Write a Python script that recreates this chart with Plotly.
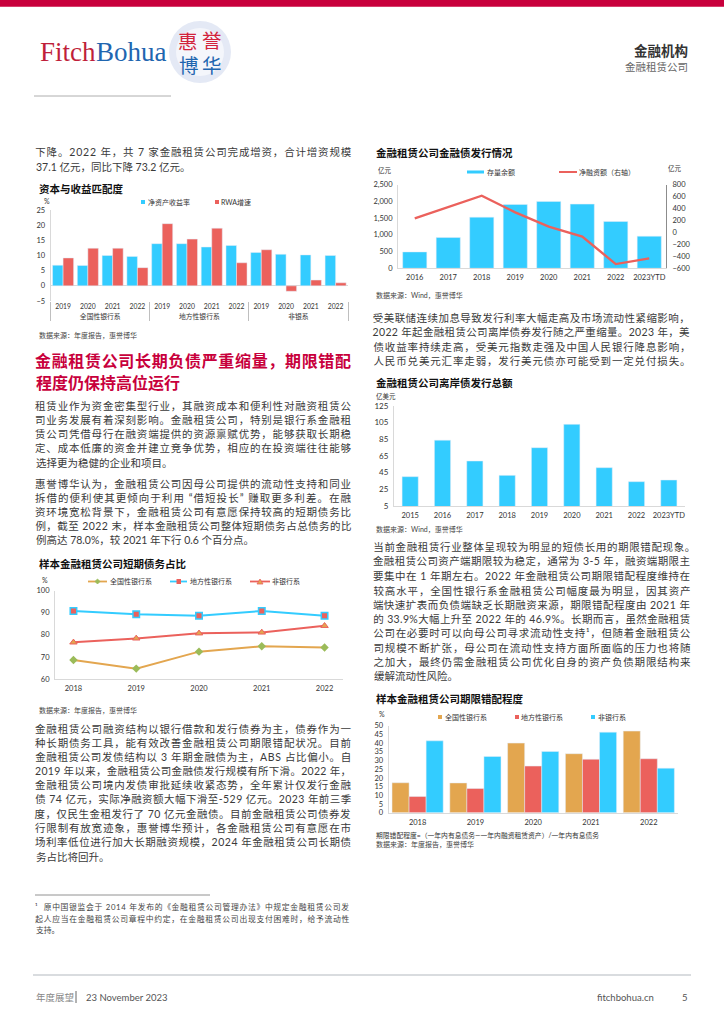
import json
import plotly.graph_objects as go

W, H = 724, 1024
FONT = "Lato, 'Noto Sans CJK SC', sans-serif"
CYAN, RED, ORANGE, GREEN = "#33CCFF", "#EB615C", "#E3A64F", "#9BBB59"
BRAND = "#C8003C"
AXIS = "#D9D9D9"
CLEAR = "rgba(0,0,0,0)"


def zh(s):
    """Use full-width CJK punctuation in Chinese running text."""
    return (s.replace(",", "\uff0c").replace(":", "\uff1a").replace("(", "\uff08").replace(")", "\uff09"))


# ---------- chart data ----------
capital_years = ["2019", "2020", "2021", "2022"] * 3
capital_groups = ["全国性银行系"] * 4 + ["地方性银行系"] * 4 + ["非银系"] * 4
capital_roe = [6.8, 6.7, 10.0, 9.7, 13.9, 13.9, 12.8, 13.3, 11.0, 10.4, 10.2, 10.0]
capital_rwa = [9.2, 12.4, 12.4, 6.0, 20.5, 15.4, 19.0, 7.6, 11.9, -1.8, 1.9, 1.0]

bond_years = ["2016", "2017", "2018", "2019", "2020", "2021", "2022", "2023YTD"]
bond_balance = [490, 920, 1530, 1910, 2000, 1920, 1400, 960]
bond_net = [237, 430, 616, 337, 97, -70, -529, -433]

offshore_years = ["2015", "2016", "2017", "2018", "2019", "2020", "2021", "2022", "2023YTD"]
offshore_total = [40.2, 84, 59, 41.8, 75, 103, 51, 34.2, 36.2]

short_years = ["2018", "2019", "2020", "2021", "2022"]
short_national = [68.6, 64.7, 72.4, 74.8, 74.3]
short_local = [90.8, 89.3, 88.7, 90.8, 88.7]
short_nonbank = [76.6, 78.4, 80.7, 81.1, 84.1]

gap_years = ["2018", "2019", "2020", "2021", "2022"]
gap_national = [17.2, 17.1, 40.0, 33.9, 46.9]
gap_local = [9.3, 13.9, 26.8, 30.7, 31.0]
gap_nonbank = [41.3, 32.3, 35.2, 46.3, 25.6]

# ---------- page text ----------
para_top = ["下降。2022 年,共 7 家金融租赁公司完成增资,合计增资规模", "37.1 亿元,同比下降 73.2 亿元。"]
para_1 = ["租赁业作为资金密集型行业,其融资成本和便利性对融资租赁公",
          "司业务发展有着深刻影响。金融租赁公司,特别是银行系金融租",
          "赁公司凭借母行在融资端提供的资源禀赋优势,能够获取长期稳",
          "定、成本低廉的资金并建立竞争优势,相应的在投资端往往能够",
          "选择更为稳健的企业和项目。"]
para_2 = ["惠誉博华认为,金融租赁公司因母公司提供的流动性支持和同业",
          "拆借的便利使其更倾向于利用 “借短投长” 赚取更多利差。在融",
          "资环境宽松背景下,金融租赁公司有意愿保持较高的短期债务比",
          "例,截至 2022 末,样本金融租赁公司整体短期债务占总债务的比",
          "例高达 78.0%,较 2021 年下行 0.6 个百分点。"]
para_3 = ["金融租赁公司融资结构以银行借款和发行债券为主,债券作为一",
          "种长期债务工具,能有效改善金融租赁公司期限错配状况。目前",
          "金融租赁公司发债结构以 3 年期金融债为主,ABS 占比偏小。自",
          "2019 年以来,金融租赁公司金融债发行规模有所下滑。2022 年,",
          "金融租赁公司境内发债审批延续收紧态势,全年累计仅发行金融",
          "债 74 亿元,实际净融资额大幅下滑至-529 亿元。2023 年前三季",
          "度,仅民生金租发行了 70 亿元金融债。目前金融租赁公司债券发",
          "行限制有放宽迹象,惠誉博华预计,各金融租赁公司有意愿在市",
          "场利率低位进行加大长期融资规模,2024 年金融租赁公司长期债",
          "务占比将回升。"]
para_r1 = ["受美联储连续加息导致发行利率大幅走高及市场流动性紧缩影响,",
           "2022 年起金融租赁公司离岸债券发行随之严重缩量。2023 年,美",
           "债收益率持续走高,受美元指数走强及中国人民银行降息影响,",
           "人民币兑美元汇率走弱,发行美元债亦可能受到一定兑付损失。"]
para_r2 = ["当前金融租赁行业整体呈现较为明显的短债长用的期限错配现象。",
           "金融租赁公司资产端期限较为稳定,通常为 3-5 年,融资端期限主",
           "要集中在 1 年期左右。2022 年金融租赁公司期限错配程度维持在",
           "较高水平,全国性银行系金融租赁公司幅度最为明显,因其资产",
           "端快速扩表而负债端缺乏长期融资来源,期限错配程度由 2021 年",
           "的 33.9%大幅上升至 2022 年的 46.9%。长期而言,虽然金融租赁",
           "公司在必要时可以向母公司寻求流动性支持¹,但随着金融租赁公",
           "司规模不断扩张,母公司在流动性支持方面所面临的压力也将随",
           "之加大,最终仍需金融租赁公司优化自身的资产负债期限结构来",
           "缓解流动性风险。"]
footnote = ["¹  原中国银监会于 2014 年发布的《金融租赁公司管理办法》中规定金融租赁公司发",
            "起人应当在金融租赁公司章程中约定,在金融租赁公司出现支付困难时,给予流动性",
            "支持。"]

ann, shp = [], []
justify = {}


def px(x):
    return x / W


def py(y):
    return 1 - y / H


def text(x, y, s, size=7, color="#333333", anchor="left", bold=False, family=FONT):
    s = zh(s)
    ann.append(dict(x=px(x), y=py(y), xref="paper", yref="paper", text=f"<b>{s}</b>" if bold else s,
                    showarrow=False, xanchor=anchor, yanchor="middle", borderpad=0,
                    font=dict(size=size, color=color, family=family)))


def block(lines, ys, x0, x1, size=10.5, color="#3a3a3a", last=False, first_width=None):
    for i, (s, y) in enumerate(zip(lines, ys)):
        if i == 0 and first_width:
            justify[zh(s)] = first_width
            text(x0 + first_width / 2, y, s, size, color, "center")
        elif i < len(lines) - 1 or last:
            justify[zh(s)] = x1 - x0
            text((x0 + x1) / 2, y, s, size, color, "center")
        else:
            text(x0, y, s, size, color)


def rect(x0, y0, x1, y1, color):
    shp.append(dict(type="rect", xref="paper", yref="paper", x0=px(x0), x1=px(x1), y0=py(y0), y1=py(y1),
                    fillcolor=color, line_width=0, layer="below"))


def hline(x0, x1, y, color, width=1):
    shp.append(dict(type="line", xref="paper", yref="paper", x0=px(x0), x1=px(x1), y0=py(y), y1=py(y),
                    line=dict(color=color, width=width)))


def circle(cx, cy, r, color):
    shp.append(dict(type="circle", xref="paper", yref="paper", x0=px(cx - r), x1=px(cx + r),
                    y0=py(cy - r), y1=py(cy + r), fillcolor=color, line_width=0, layer="below"))


def poly(points, color, edge=None):
    path = "M" + "L".join(f"{px(a):.5f},{py(b):.5f}" for a, b in points) + "Z"
    shp.append(dict(type="path", xref="paper", yref="paper", path=path, fillcolor=color,
                    line=dict(color=edge or color, width=0.8)))


def swatch(x, y, color, s=2):
    rect(x - s, y - s, x + s, y + s, color)


def xaxis(x0, x1, y_anchor, **kw):
    base = dict(domain=[px(x0), px(x1)], anchor=y_anchor, showgrid=False, zeroline=False, showline=True,
                linecolor=AXIS, linewidth=1, ticks="outside", ticklen=2, tickcolor=CLEAR, tickangle=0,
                tickfont=dict(size=7.5, color="#333333", family=FONT), fixedrange=True, type="category")
    base.update(kw)
    return base


def yaxis(y_top, y_bottom, x_anchor, rng, dtick, tick0=None, size=7.5, **kw):
    base = dict(domain=[py(y_bottom), py(y_top)], anchor=x_anchor, range=rng, dtick=dtick, showgrid=False,
                zeroline=False, showline=True, linecolor=AXIS, linewidth=1, ticks="outside", ticklen=3,
                tickcolor=CLEAR, tickfont=dict(size=size, color="#333333", family=FONT), fixedrange=True)
    if tick0 is not None:
        base["tick0"] = tick0
    base.update(kw)
    return base


fig = go.Figure()

# ---- Chart 1: capital vs return (multi-level categories) ----
cap_x = [capital_groups, capital_years]
fig.add_bar(x=cap_x, y=capital_roe, name="净资产收益率", marker_color=CYAN, width=0.425, offset=-0.425, xaxis="x", yaxis="y")
fig.add_bar(x=cap_x, y=capital_rwa, name="RWA增速", marker_color=RED, width=0.425, offset=0, xaxis="x", yaxis="y")

# ---- Chart 2: bond issuance ----
fig.add_bar(x=bond_years, y=bond_balance, name="存量余额", marker_color=CYAN, width=0.72, xaxis="x2", yaxis="y2")
fig.add_scatter(x=bond_years, y=bond_net, name=zh("净融资额(右轴)"), mode="lines", line=dict(color=RED, width=2.4),
                xaxis="x2", yaxis="y6")

# ---- Chart 3: offshore ----
fig.add_bar(x=offshore_years, y=offshore_total, name="离岸债发行总额", marker_color=CYAN, width=0.5, xaxis="x3", yaxis="y3")

# ---- Chart 4: short-term debt share ----
fig.add_scatter(x=short_years, y=short_national, name="全国性银行系", mode="lines+markers",
                line=dict(color=ORANGE, width=2), marker=dict(symbol="diamond", size=6.5, color=GREEN),
                xaxis="x4", yaxis="y4")
fig.add_scatter(x=short_years, y=short_local, name="地方性银行系", mode="lines+markers",
                line=dict(color=CYAN, width=2), marker=dict(symbol="square", size=6.5, color=RED, line=dict(color=CYAN, width=1.5)),
                xaxis="x4", yaxis="y4")
fig.add_scatter(x=short_years, y=short_nonbank, name="非银行系", mode="lines+markers",
                line=dict(color=RED, width=2), marker=dict(symbol="triangle-up", size=6.5, color=ORANGE, line=dict(color=RED, width=1)),
                xaxis="x4", yaxis="y4")

# ---- Chart 5: maturity mismatch ----
fig.add_bar(x=gap_years, y=gap_national, name="全国性银行系", marker_color=ORANGE, width=0.295, offset=-0.4425, xaxis="x5", yaxis="y5")
fig.add_bar(x=gap_years, y=gap_local, name="地方性银行系", marker_color=RED, width=0.295, offset=-0.1475, xaxis="x5", yaxis="y5")
fig.add_bar(x=gap_years, y=gap_nonbank, name="非银行系", marker_color=CYAN, width=0.295, offset=0.1475, xaxis="x5", yaxis="y5")

# ---------- page furniture ----------
rect(0, 0, W, 6.7, BRAND)
hline(34, 171, 96, "#9a9a9a", 0.8)
hline(33, 691, 975, "#CDD1D5", 1.6)
hline(35, 210, 895, "#777777", 0.8)

circle(200, 52, 31, "#E4E9F5")
circle(200, 52, 24, "#F4F6FB")
text(39, 52, "Fitch", 27, "#C01F3A", family="'Liberation Serif', serif")
text(95, 52, "Bohua", 27, "#1F66B0", family="'Liberation Serif', serif")
for ch, x, y, c in [("惠", 188, 41.5, "#D2233C"), ("誉", 212, 40.5, "#D2233C"), ("博", 189, 65, "#1F66B0"), ("华", 212, 65, "#1F66B0")]:
    text(x, y, ch, 19.5, c, "center")

text(689, 51, "金融机构", 13.5, "#333333", "right", True)
text(689, 67, "金融租赁公司", 10.5, "#666666", "right")

text(35, 997, "年度展望", 9.5, "#888888")
hline(76, 76, 990, "#888888")
shp[-1].update(y0=py(991), y1=py(1003), line=dict(color="#666666", width=1))
text(84.5, 997, "23 November 2023", 9.5, "#555555")
text(655, 997, "fitchbohua.cn", 9.5, "#555555", "right")
text(689, 997, "5", 9.5, "#555555", "right")

# headline
headline = "金融租赁公司长期负债严重缩量,期限错配"
text(193, 360, headline, 16, BRAND, "center", True)
justify[f"<b>{zh(headline)}</b>"] = 316
text(35, 382, "程度仍保持高位运行", 16, BRAND, "left", True)

# body
block(para_top, [152, 167], 35, 351)
block(para_1, [405.7, 420, 434.3, 448.3, 462.7], 35, 351)
block(para_2, [483.7, 497.7, 511.7, 526, 540], 35, 351)
block(para_3, [729.3, 743.3, 757.3, 771.3, 785.3, 799.3, 814, 828.3, 842.3, 856.7], 35, 351)
block(para_r1, [318, 332.3, 346.7, 360.7], 373, 690, last=True)
block(para_r2, [547.3, 561.3, 576.3, 590.7, 605, 618.7, 633.3, 647.7, 662, 676], 373, 690, first_width=322)
block(footnote, [907, 918.5, 929.5], 35, 349, size=7.8, color="#444444")

# chart titles, sources, units, legends
text(38, 189, "资本与收益匹配度", 10.5, "#111111", bold=True)
text(43, 200.5, "%", 7, "#333333")
swatch(143, 202, CYAN)
text(147, 202, "净资产收益率", 7)
swatch(217, 202, RED)
text(220, 202, "RWA增速", 7)
text(38, 335.5, "数据来源:年度报告,惠誉博华", 7, "#444444")

text(375, 153, "金融租赁公司金融债发行情况", 10.5, "#111111", bold=True)
text(377, 170.5, "亿元", 6.5)
text(667, 168.5, "亿元", 6.5)
rect(467, 170.5, 484, 173.5, CYAN)
text(486, 172, "存量余额", 7)
rect(559, 171, 577, 173, RED)
text(578, 172, "净融资额(右轴)", 7)
text(375, 295.5, "数据来源:Wind,惠誉博华", 7, "#444444")

text(375, 383, "金融租赁公司离岸债发行总额", 10.5, "#111111", bold=True)
text(375, 396, "亿美元", 6.5)
text(375, 529, "数据来源:Wind,惠誉博华", 7, "#444444")

text(38, 564, "样本金融租赁公司短期债务占比", 10.5, "#111111", bold=True)
text(41, 580, "%", 7)
rect(88, 580.6, 107, 582.4, ORANGE)
poly([(97.5, 579), (100, 581.5), (97.5, 584), (95, 581.5)], GREEN)
text(109, 581.5, "全国性银行系", 7)
rect(170, 580.6, 187, 582.4, CYAN)
rect(176.5, 579, 181, 584, RED)
text(189, 581.5, "地方性银行系", 7)
rect(250, 580.6, 270, 582.4, RED)
poly([(260, 579), (263, 584), (257, 584)], ORANGE, RED)
text(271, 581.5, "非银行系", 7)
text(38, 710, "数据来源:年度报告,惠誉博华", 7, "#444444")

text(375, 699, "样本金融租赁公司期限错配程度", 10.5, "#111111", bold=True)
text(378, 714, "%", 7)
swatch(440, 717, ORANGE)
text(444, 717, "全国性银行系", 7)
swatch(517, 717, RED)
text(520, 717, "地方性银行系", 7)
swatch(593, 717, CYAN)
text(597, 717, "非银行系", 7)
text(375, 835, "期限错配程度=(一年内有息债务—一年内融资租赁资产)/一年内有息债务", 6.8, "#333333")
text(375, 844.5, "数据来源:年度报告,惠誉博华", 7, "#444444")

fig.update_layout(
    width=W, height=H, margin=dict(l=0, r=0, t=0, b=0, autoexpand=False), autosize=False,
    paper_bgcolor="white", plot_bgcolor="white", showlegend=False, barmode="overlay",
    font=dict(family=FONT, size=8),
    annotations=ann, shapes=shp,
    xaxis=xaxis(50.7, 348, "y", type="multicategory", showdividers=True, dividercolor="#BFBFBF", dividerwidth=1,
                tickson="boundaries", ticklen=3, tickfont=dict(size=6.8, color="#333333", family=FONT), showline=False),
    yaxis=yaxis(210, 301, "x", [-5, 25], 5),
    xaxis2=xaxis(398, 666, "y2"),
    yaxis2=yaxis(184.7, 268.3, "x2", [0, 2500], 500, tickformat=","),
    yaxis6=yaxis(184.7, 268.3, "x2", [-600, 800], 200, overlaying="y2", side="right", linecolor="#8C8C8C", ticklen=4),
    xaxis3=xaxis(394, 685, "y3"),
    yaxis3=yaxis(406, 506, "x3", [5, 125], 20, tick0=5, size=8),
    xaxis4=xaxis(55, 343, "y4"),
    yaxis4=yaxis(590.7, 679, "x4", [60, 100], 10),
    xaxis5=xaxis(388.7, 677.7, "y5"),
    yaxis5=yaxis(725.7, 812.7, "x5", [0, 50], 5),
)
# zero baseline for the chart with negative values
fig.layout.yaxis.update(zeroline=True, zerolinecolor=AXIS, zerolinewidth=1)

post = """
document.body.style.margin='0';
document.documentElement.style.overflow='hidden';
var JUST=%s;
function fit(){
  document.querySelectorAll('.annotation-text').forEach(function(t){
    var k=t.getAttribute('data-unformatted');
    if(k in JUST){t.setAttribute('textLength',JUST[k]);t.setAttribute('lengthAdjust','spacing');}
  });
}
fit();setTimeout(fit,100);setTimeout(fit,500);
""" % json.dumps(justify, ensure_ascii=False)

fig.write_html("out.html", config=dict(displayModeBar=False, responsive=False), post_script=post)
